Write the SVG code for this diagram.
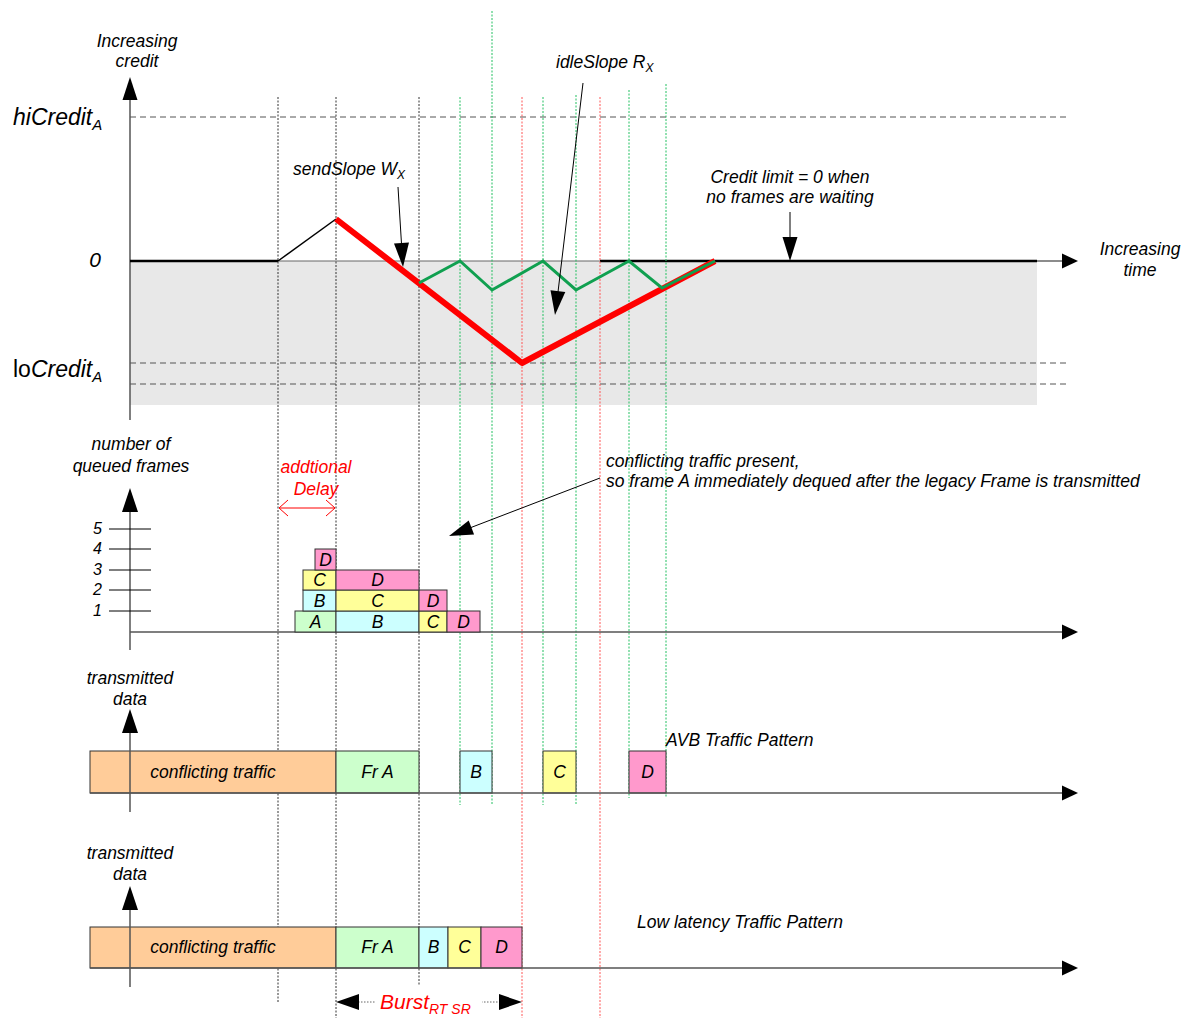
<svg xmlns="http://www.w3.org/2000/svg" width="1183" height="1018" viewBox="0 0 1183 1018">
<style>
text{font-family:"Liberation Sans",Arial,sans-serif;font-style:italic;font-size:17.5px;fill:#000}
.c{text-anchor:middle}
.red{fill:#ff0000}
.vb{stroke:#333;stroke-width:1;stroke-dasharray:2,1.5;fill:none}
.vg{stroke:#22c060;stroke-width:1;stroke-dasharray:2,1.5;fill:none}
.vr{stroke:#ff5555;stroke-width:1;stroke-dasharray:2,1.5;fill:none}
.hd{stroke:#555;stroke-width:1;stroke-dasharray:6,4;fill:none}
.ax{stroke:#555;stroke-width:1.5;fill:none}
.box{stroke:#333;stroke-width:1}
.g{fill:#ccffcc}.cy{fill:#ccffff}.y{fill:#ffff99}.p{fill:#ff99cc}.o{fill:#ffcc99}
.ah{fill:#000}
.tk{stroke:#000;stroke-width:1}
</style>

<g id="credit-chart">
  <rect x="130" y="261" width="907" height="144" fill="#e8e8e8"/>
  <line class="hd" x1="130" y1="117" x2="1070" y2="117"/>
  <line class="hd" x1="130" y1="363" x2="1070" y2="363"/>
  <line class="hd" x1="130" y1="384" x2="1070" y2="384"/>
  <line class="ax" x1="130" y1="95" x2="130" y2="420"/>
  <polygon class="ah" points="130,77 122.5,100 137.5,100"/>
  <line x1="130" y1="261" x2="278" y2="261" stroke="#000" stroke-width="2.5"/>
  <line x1="278" y1="261" x2="600" y2="261" stroke="#666" stroke-width="1"/>
  <line x1="600" y1="261" x2="1037" y2="261" stroke="#000" stroke-width="2.5"/>
  <line x1="1037" y1="261" x2="1062" y2="261" stroke="#666" stroke-width="1.5"/>
  <polygon class="ah" points="1078,261 1062,253.5 1062,268.5"/>
  <text class="c" x="137" y="47">Increasing</text>
  <text class="c" x="137" y="67">credit</text>
  <text x="13" y="125" style="font-size:23px">hiCredit<tspan dy="5" style="font-size:15px">A</tspan></text>
  <text x="101" y="267" style="font-size:21px;text-anchor:end">0</text>
  <text x="13" y="377" style="font-size:23px"><tspan style="font-style:normal">lo</tspan>Credit<tspan dy="5" style="font-size:15px">A</tspan></text>
  <text class="c" x="1140" y="255">Increasing</text>
  <text class="c" x="1140" y="276">time</text>
</g>

<g id="vertical-guides">
  <line class="vb" x1="278" y1="97" x2="278" y2="1003"/>
  <line class="vb" x1="336" y1="97" x2="336" y2="1018"/>
  <line class="vb" x1="419" y1="97" x2="419" y2="987"/>
  <line class="vg" x1="460" y1="97" x2="460" y2="805"/>
  <line class="vg" x1="492" y1="11" x2="492" y2="805"/>
  <line class="vr" x1="522" y1="97" x2="522" y2="1018"/>
  <line class="vg" x1="543" y1="97" x2="543" y2="805"/>
  <line class="vg" x1="576" y1="95" x2="576" y2="805"/>
  <line class="vr" x1="600" y1="97" x2="600" y2="1018"/>
  <line class="vg" x1="629" y1="90" x2="629" y2="798"/>
  <line class="vg" x1="666" y1="84" x2="666" y2="798"/>
</g>

<g id="credit-curves">
  <polyline points="278,261 336,219" fill="none" stroke="#000" stroke-width="1.5"/>
  <polyline points="336,219 522,363 715,261" fill="none" stroke="#ff0000" stroke-width="6" stroke-linejoin="round"/>
  <polyline points="419,283 460,261 492,290 543,261 576,290 629,261 662,288 715,261" fill="none" stroke="#10a050" stroke-width="3"/>
</g>

<g id="annotations">
  <text x="293" y="175">sendSlope W<tspan dy="4" style="font-size:12px">X</tspan></text>
  <line x1="398" y1="187" x2="401.5" y2="244" stroke="#000" stroke-width="1"/>
  <polygon class="ah" points="403,267 394,243.5 409,242.5"/>
  <text x="556" y="68">idleSlope R<tspan dy="4" style="font-size:12px">X</tspan></text>
  <line x1="583" y1="83" x2="558" y2="292" stroke="#000" stroke-width="1"/>
  <polygon class="ah" points="555,315 550.5,290.3 565.3,292.1"/>
  <text class="c" x="790" y="183">Credit limit = 0 when</text>
  <text class="c" x="790" y="203">no frames are waiting</text>
  <line x1="790" y1="212" x2="790" y2="240" stroke="#000" stroke-width="1"/>
  <polygon class="ah" points="790,261 782.5,237 797.5,237"/>
  <text x="606" y="467">conflicting traffic present,</text>
  <text x="606" y="487">so frame A immediately dequed after the legacy Frame is transmitted</text>
  <line x1="600" y1="478" x2="471" y2="527.5" stroke="#000" stroke-width="1"/>
  <polygon class="ah" points="449,536 468.7,520.4 474.1,534.4"/>
</g>

<g id="queue-chart">
  <line class="ax" x1="130" y1="508" x2="130" y2="650"/>
  <polygon class="ah" points="130,488 122,512 138,512"/>
  <line class="ax" x1="130" y1="632" x2="1062" y2="632"/>
  <polygon class="ah" points="1078,632 1062,624.5 1062,639.5"/>
  <text class="c" x="131" y="450">number of</text>
  <text class="c" x="131" y="472">queued frames</text>
  <line class="tk" x1="109" y1="529" x2="151" y2="529"/>
  <line class="tk" x1="109" y1="549" x2="151" y2="549"/>
  <line class="tk" x1="109" y1="570" x2="151" y2="570"/>
  <line class="tk" x1="109" y1="590" x2="151" y2="590"/>
  <line class="tk" x1="109" y1="611" x2="151" y2="611"/>
  <text x="102" y="534" style="text-anchor:end;font-size:16px">5</text>
  <text x="102" y="554" style="text-anchor:end;font-size:16px">4</text>
  <text x="102" y="575" style="text-anchor:end;font-size:16px">3</text>
  <text x="102" y="595" style="text-anchor:end;font-size:16px">2</text>
  <text x="102" y="616" style="text-anchor:end;font-size:16px">1</text>
  <text class="c red" x="316" y="473">addtional</text>
  <text class="c red" x="316" y="495">Delay</text>
  <g stroke="#ff0000" stroke-width="1" fill="none">
    <line x1="279" y1="508" x2="335" y2="508"/>
    <polyline points="288,500 279,508 288,516"/>
    <polyline points="326,500 335,508 326,516"/>
  </g>
</g>

<g id="queue-frames">
  <rect class="box g" x="295" y="611" width="41" height="21"/><text class="c" x="315.5" y="627.5">A</text>
  <rect class="box cy" x="336" y="611" width="83" height="21"/><text class="c" x="377.5" y="627.5">B</text>
  <rect class="box y" x="419" y="611" width="28" height="21"/><text class="c" x="433" y="627.5">C</text>
  <rect class="box p" x="447" y="611" width="33" height="21"/><text class="c" x="463.5" y="627.5">D</text>
  <rect class="box cy" x="303" y="590" width="33" height="21"/><text class="c" x="319.5" y="606.5">B</text>
  <rect class="box y" x="336" y="590" width="83" height="21"/><text class="c" x="377.5" y="606.5">C</text>
  <rect class="box p" x="419" y="590" width="28" height="21"/><text class="c" x="433" y="606.5">D</text>
  <rect class="box y" x="303" y="570" width="33" height="20"/><text class="c" x="319.5" y="586">C</text>
  <rect class="box p" x="336" y="570" width="83" height="20"/><text class="c" x="377.5" y="586">D</text>
  <rect class="box p" x="315" y="549" width="21" height="21"/><text class="c" x="325.5" y="565.5">D</text>
</g>

<g id="avb-pattern">
  <text class="c" x="130" y="684">transmitted</text>
  <text class="c" x="130" y="705">data</text>
  <rect class="box o" x="90" y="751" width="246" height="42"/>
  <rect class="box g" x="336" y="751" width="83" height="42"/>
  <rect class="box cy" x="460" y="751" width="32" height="42"/>
  <rect class="box y" x="543" y="751" width="33" height="42"/>
  <rect class="box p" x="629" y="751" width="37" height="42"/>
  <line class="ax" x1="130" y1="730" x2="130" y2="812"/>
  <polygon class="ah" points="130,709 122,733 138,733"/>
  <line class="ax" x1="90" y1="793" x2="1062" y2="793"/>
  <polygon class="ah" points="1078,793 1062,785.5 1062,800.5"/>
  <text class="c" x="213" y="778">conflicting traffic</text>
  <text class="c" x="377.5" y="778">Fr A</text>
  <text class="c" x="476" y="778">B</text>
  <text class="c" x="559.5" y="778">C</text>
  <text class="c" x="647.5" y="778">D</text>
  <text x="666" y="746">AVB Traffic Pattern</text>
</g>

<g id="low-latency-pattern">
  <text class="c" x="130" y="859">transmitted</text>
  <text class="c" x="130" y="880">data</text>
  <rect class="box o" x="90" y="927" width="246" height="41"/>
  <rect class="box g" x="336" y="927" width="83" height="41"/>
  <rect class="box cy" x="419" y="927" width="29" height="41"/>
  <rect class="box y" x="448" y="927" width="33" height="41"/>
  <rect class="box p" x="481" y="927" width="41" height="41"/>
  <line class="ax" x1="130" y1="905" x2="130" y2="987"/>
  <polygon class="ah" points="130,886 122,910 138,910"/>
  <line class="ax" x1="90" y1="968" x2="1062" y2="968"/>
  <polygon class="ah" points="1078,968 1062,960.5 1062,975.5"/>
  <text class="c" x="213" y="953">conflicting traffic</text>
  <text class="c" x="377.5" y="953">Fr A</text>
  <text class="c" x="433.5" y="953">B</text>
  <text class="c" x="464.5" y="953">C</text>
  <text class="c" x="501.5" y="953">D</text>
  <text x="637" y="928">Low latency Traffic Pattern</text>
</g>

<g id="burst">
  <line x1="358" y1="1002" x2="500" y2="1002" stroke="#666" stroke-width="1" stroke-dasharray="1.5,1.5"/>
  <polygon class="ah" points="336,1002 359,994 359,1010"/>
  <polygon class="ah" points="522,1002 499,994 499,1010"/>
  <rect x="376" y="986" width="106" height="30" fill="#fff"/>
  <text class="red" x="380" y="1009" style="font-size:21px">Burst<tspan dy="5" style="font-size:14px">RT SR</tspan></text>
</g>
</svg>
